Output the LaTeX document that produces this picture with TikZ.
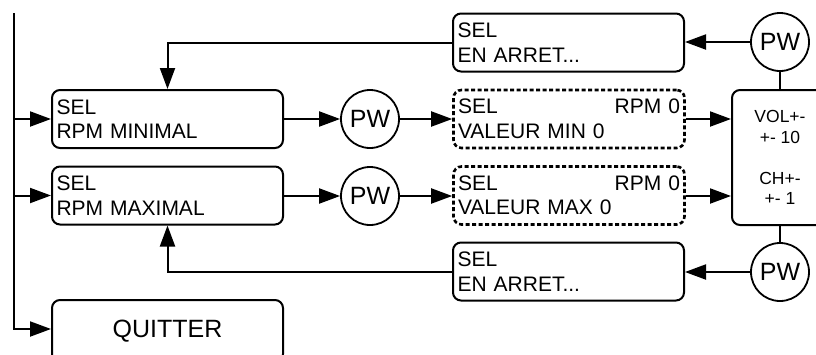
\documentclass[tikz,border=0pt]{standalone}
\usepackage{fontspec}
\setmainfont{Liberation Sans}
\usetikzlibrary{arrows.meta}
\begin{document}
\begin{tikzpicture}[x=1pt,y=-1pt,
  every node/.style={font=\fontsize{21}{24.5}\selectfont},
  selbox/.style={draw, line width=2pt, rounded corners=8pt, minimum width=231pt, minimum height=58pt,
     inner xsep=4.5pt, inner ysep=0pt, text width=222pt, align=left},
  dashbox/.style={selbox, dash pattern=on 4pt off 2.5pt, line width=2.6pt},
  pwnode/.style={draw, circle, line width=1.8pt, minimum size=58pt, inner sep=0pt, font=\fontsize{25}{28}\selectfont},
  conn/.style={line width=2pt},
  arr/.style={conn, -{Triangle[length=21pt,width=15pt]}}
]
\useasboundingbox (0,0) rectangle (816,354);
% boxes
\node[selbox] (minbox) at (167.5,119) {SEL\\RPM MINIMAL};
\node[selbox] (maxbox) at (167.5,195.5) {SEL\\RPM MAXIMAL};
\node[selbox, minimum height=62pt, align=center, font=\fontsize{25}{28}\selectfont] (quit) at (167.5,331) {QUITTER};
\node[pwnode] (pw1) at (370,119) {PW};
\node[pwnode] (pw2) at (370,196) {PW};
\node[dashbox] (dmin) at (569,119) {SEL\hfill RPM 0\hspace{19pt}\\VALEUR MIN 0};
\node[dashbox] (dmax) at (569,195.5) {SEL\hfill RPM 0\hspace{19pt}\\VALEUR MAX 0};
\node[selbox] (arr1) at (568.5,42.5) {SEL\\EN ARRET...};
\node[selbox] (arr2) at (568.5,271.5) {SEL\\EN ARRET...};
\node[pwnode] (pwt) at (780,42) {PW};
\node[pwnode] (pwb) at (780,272) {PW};
\node[draw, line width=2pt, rounded corners=8pt, minimum width=96pt, minimum height=135pt,
      align=center, inner sep=0pt, font=\fontsize{17.5}{20.5}\selectfont] (vol) at (780,157.5)
      {VOL+-\\+- 10\\[20.5pt]CH+-\\+- 1};
% left bus
\coordinate (top) at (14,13);
\draw[arr] (top) |- (quit.west |- 0,329);
\draw[arr] (minbox.west -| top) -- (minbox.west);
\draw[arr] (maxbox.west -| top) -- (maxbox.west);
% main flows
\draw[arr] (minbox.east) -- (pw1.west);
\draw[arr] (pw1.east) -- (dmin.west);
\draw[arr] (maxbox.east |- pw2.west) -- (pw2.west);
\draw[arr] (pw2.east) -- (dmax.west |- pw2.east);
\draw[arr] (dmin.east) -- (dmin.east -| vol.west);
\draw[arr] (dmax.east |- pw2.east) -- (vol.west |- pw2.east);
% right side
\draw[conn] (pwt.south) -- (vol.north);
\draw[conn] (vol.south) -- (pwb.north);
\draw[arr] (pwt.west) -- (arr1.east |- pwt.west);
\draw[arr] (pwb.west) -- (arr2.east |- pwb.west);
% returns
\draw[arr] (arr1.west) -| (minbox.north);
\draw[arr] (arr2.west) -| (maxbox.south);
\end{tikzpicture}
\end{document}
